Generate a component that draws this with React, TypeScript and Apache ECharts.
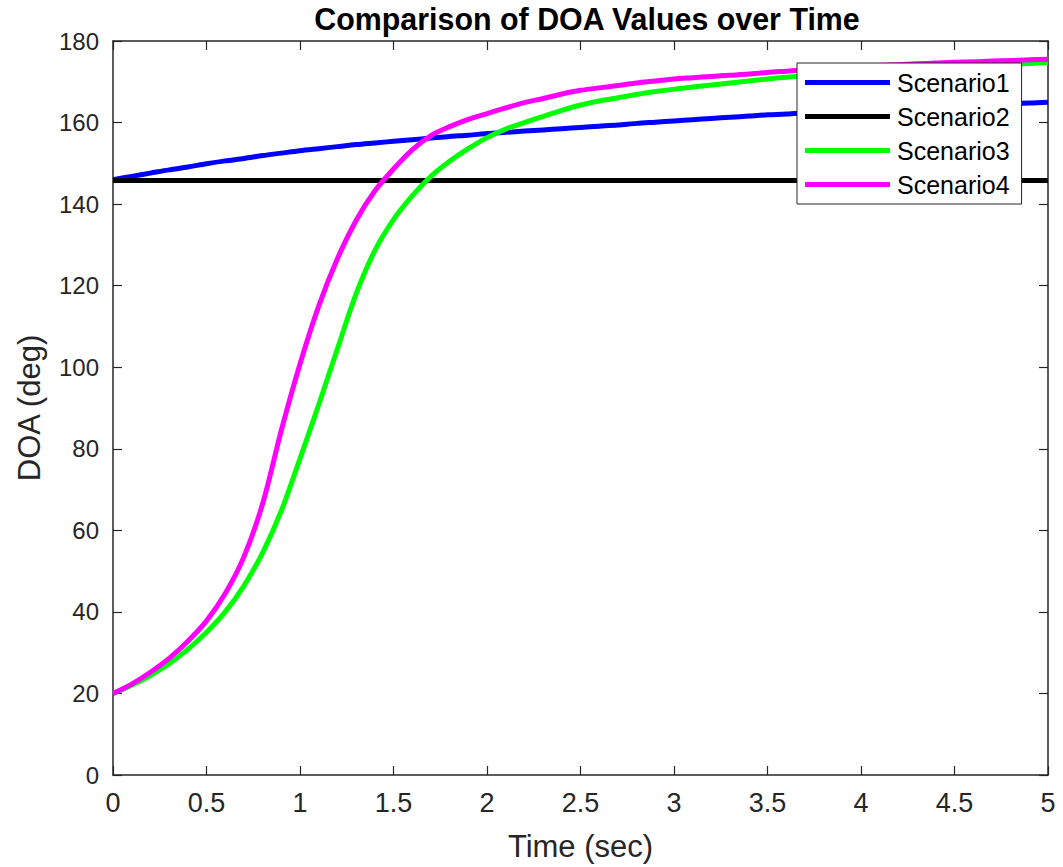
import React, { useEffect, useRef } from "react";
import * as echarts from "echarts";

const times = [
  0, 0.1, 0.2, 0.3, 0.4, 0.5, 0.6, 0.7, 0.8, 0.9,
  1.0, 1.1, 1.2, 1.3, 1.4, 1.5, 1.6, 1.7, 1.8, 1.9,
  2.0, 2.1, 2.2, 2.3, 2.4, 2.5, 2.6, 2.7, 2.8, 2.9,
  3.0, 3.1, 3.2, 3.3, 3.4, 3.5, 3.6, 3.7, 3.8, 3.9,
  4.0, 4.1, 4.2, 4.3, 4.4, 4.5, 4.6, 4.7, 4.8, 4.9, 5.0,
];

const scenario1 = [
  146.0, 146.8, 147.6, 148.4, 149.1, 149.9, 150.6, 151.2, 151.9, 152.5,
  153.1, 153.6, 154.1, 154.6, 155.0, 155.4, 155.8, 156.2, 156.6, 156.9,
  157.3, 157.6, 157.9, 158.2, 158.5, 158.8, 159.1, 159.4, 159.8, 160.1,
  160.4, 160.7, 161.0, 161.3, 161.6, 161.9, 162.1, 162.4, 162.7, 162.9,
  163.2, 163.4, 163.6, 163.8, 164.0, 164.2, 164.4, 164.5, 164.7, 164.8, 165.0,
];

const scenario2 = [
  145.8, 145.8, 145.8, 145.8, 145.8, 145.8, 145.8, 145.8, 145.8, 145.8,
  145.8, 145.8, 145.8, 145.8, 145.8, 145.8, 145.8, 145.8, 145.8, 145.8,
  145.8, 145.8, 145.8, 145.8, 145.8, 145.8, 145.8, 145.8, 145.8, 145.8,
  145.8, 145.8, 145.8, 145.8, 145.8, 145.8, 145.8, 145.8, 145.8, 145.8,
  145.8, 145.8, 145.8, 145.8, 145.8, 145.8, 145.8, 145.8, 145.8, 145.8, 145.8,
];

const scenario3 = [
  20.0, 22.0, 24.4, 27.3, 30.8, 35.0, 40.0, 46.4, 54.5, 64.8,
  77.6, 90.8, 104.5, 118.0, 128.6, 136.2, 142.0, 146.8, 150.5, 153.6,
  156.3, 158.4, 160.0, 161.5, 163.0, 164.3, 165.3, 166.1, 166.9, 167.6,
  168.2, 168.7, 169.2, 169.7, 170.2, 170.7, 171.1, 171.5, 171.8, 172.1,
  172.4, 172.7, 173.0, 173.2, 173.4, 173.6, 173.8, 174.0, 174.3, 174.5, 174.7,
];

const scenario4 = [
  20.0, 22.3, 25.2, 28.6, 32.8, 37.8, 44.5, 53.5, 66.5, 84.5,
  100.8, 115.0, 126.6, 136.0, 143.2, 148.6, 153.3, 156.8, 159.0, 160.8,
  162.2, 163.6, 164.9, 165.9, 167.0, 167.9, 168.5, 169.1, 169.7, 170.2,
  170.7, 171.0, 171.3, 171.6, 171.9, 172.3, 172.6, 172.9, 173.2, 173.5,
  173.8, 174.0, 174.2, 174.4, 174.6, 174.8, 174.9, 175.1, 175.2, 175.4, 175.5,
];

const seriesNames = ["Scenario1", "Scenario2", "Scenario3", "Scenario4"];
const seriesColors = ["#0000ff", "#000000", "#00ff00", "#ff00ff"];
const seriesValues = [scenario1, scenario2, scenario3, scenario4];

const xTicks = [0, 0.5, 1, 1.5, 2, 2.5, 3, 3.5, 4, 4.5, 5];
const yTicks = [0, 20, 40, 60, 80, 100, 120, 140, 160, 180];

const TITLE = "Comparison of DOA Values over Time";
const FONT = "'Liberation Sans', Arial, sans-serif";
const AXIS_COLOR = "#262626";

export default function App() {
  const ref = useRef<HTMLDivElement>(null);

  useEffect(() => {
    if (!ref.current) return;
    const chart = echarts.init(ref.current, undefined, { renderer: "svg" });

    const baseX = {
      type: "value",
      min: xTicks[0],
      max: xTicks[xTicks.length - 1],
      interval: 0.5,
      splitLine: { show: false },
      axisLine: { show: true, onZero: false, lineStyle: { color: AXIS_COLOR, width: 1.5 } },
      axisTick: { show: true, inside: true, length: 9, lineStyle: { color: AXIS_COLOR, width: 1.2 } },
    };
    const baseY = {
      type: "value",
      min: yTicks[0],
      max: yTicks[yTicks.length - 1],
      interval: 20,
      splitLine: { show: false },
      axisLine: { show: true, onZero: false, lineStyle: { color: AXIS_COLOR, width: 1.5 } },
      axisTick: { show: true, inside: true, length: 9, lineStyle: { color: AXIS_COLOR, width: 1.2 } },
    };

    chart.setOption({
      animation: false,
      backgroundColor: "#ffffff",
      graphic: [
        {
          type: "text",
          x: 587,
          y: 3,
          scaleX: 0.95,
          z: 20,
          style: {
            text: TITLE,
            fontFamily: FONT,
            fontWeight: "bold",
            fontSize: 32,
            fill: "#000000",
            textAlign: "center",
            textVerticalAlign: "top",
          },
        },
      ],
      grid: { left: 113, right: 15, top: 41, bottom: 92, containLabel: false },
      legend: {
        orient: "vertical",
        left: 797,
        top: 63,
        z: 20,
        data: seriesNames,
        icon: "rect",
        backgroundColor: "#ffffff",
        borderColor: AXIS_COLOR,
        borderWidth: 1,
        padding: [6, 12, 6, 8],
        itemWidth: 85,
        itemHeight: 5,
        itemGap: 7,
        textStyle: { fontFamily: FONT, fontSize: 25, color: "#000000", lineHeight: 27, padding: [0, 0, 0, 2] },
      },
      xAxis: [
        {
          ...baseX,
          position: "bottom",
          name: "Time (sec)",
          nameLocation: "middle",
          nameGap: 56,
          nameTextStyle: { fontFamily: FONT, fontSize: 31, color: AXIS_COLOR },
          axisLabel: { show: true, margin: 14, fontFamily: FONT, fontSize: 27, color: AXIS_COLOR },
        },
        {
          ...baseX,
          position: "top",
          axisLabel: { show: false },
        },
      ],
      yAxis: [
        {
          ...baseY,
          position: "left",
          name: "DOA (deg)",
          nameLocation: "middle",
          nameGap: 68,
          nameTextStyle: { fontFamily: FONT, fontSize: 31, color: AXIS_COLOR },
          axisLabel: { show: true, margin: 14, fontFamily: FONT, fontSize: 24, color: AXIS_COLOR },
        },
        {
          ...baseY,
          position: "right",
          axisLabel: { show: false },
        },
      ],
      series: seriesNames.map((name, i) => ({
        name,
        type: "line",
        xAxisIndex: 0,
        yAxisIndex: 0,
        data: times.map((t, j) => [t, seriesValues[i][j]]),
        smooth: 0.3,
        showSymbol: false,
        symbol: "circle",
        symbolSize: 4,
        color: seriesColors[i],
        itemStyle: { color: seriesColors[i] },
        lineStyle: { color: seriesColors[i], width: 5 },
      })),
    });

    return () => chart.dispose();
  }, []);

  return <div ref={ref} style={{ width: 1063, height: 867, position: "absolute", left: 0, top: 0 }} />;
}
